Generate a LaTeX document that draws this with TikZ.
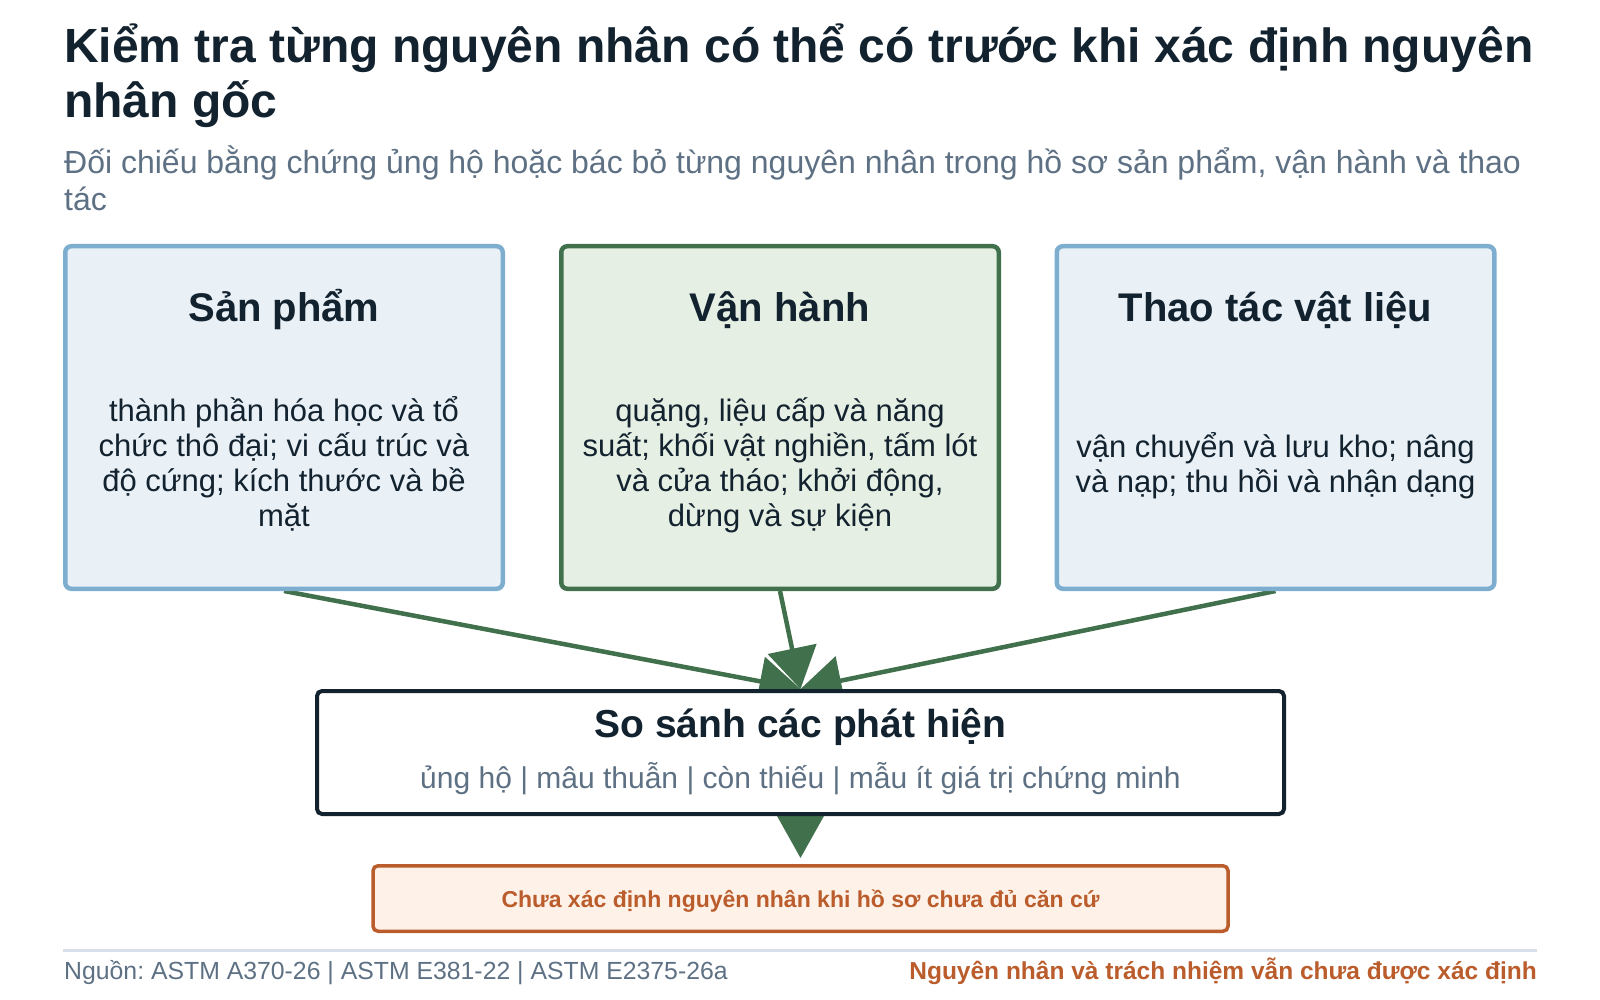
\documentclass[tikz,border=0pt]{standalone}
\usepackage{fontspec}
\setmainfont{Liberation Sans}
\frenchspacing
\usetikzlibrary{arrows.meta,
	positioning,
	backgrounds}

\definecolor{ink}{HTML}{13222F}
\definecolor{slate}{HTML}{5E7184}
\definecolor{skyline}{HTML}{7DAED0}
\definecolor{skyfill}{HTML}{E9F1F6}
\definecolor{leaf}{HTML}{41704C}
\definecolor{leaffill}{HTML}{E6EFE3}
\definecolor{rust}{HTML}{BA5C2B}
\definecolor{rustfill}{HTML}{FEF1E8}
\definecolor{rulegray}{HTML}{D7E0E8}

\begin{document}
\begin{tikzpicture}[x=1pt,y=-1pt,
	intro/.style={anchor=base west,inner sep=0pt,align=left},
	causebox/.style={draw=skyline,fill=skyfill,line width=4.5pt,rounded corners=6pt,
		minimum width=437.5pt,minimum height=342.5pt,inner sep=0pt},
	boxtitle/.style={anchor=base,inner sep=0pt,text=ink,font=\fontsize{40}{46}\selectfont\bfseries},
	boxtext/.style={anchor=base,inner sep=0pt,align=center,text=ink,font=\fontsize{31}{35}\selectfont},
	flowarrow/.style={draw=leaf,line width=4.5pt,-{Triangle[length=41pt,width=49pt]}}]

        \useasboundingbox (0,0) rectangle (1600,1000);

        \node (title) at (64,118) [intro,text=ink,font=\fontsize{48}{55}\selectfont\bfseries]
        	{Kiểm tra từng nguyên nhân có thể có trước khi xác định nguyên\\nhân gốc};
        \node (sub) at (64,211) [intro,text=slate,font=\fontsize{32}{37}\selectfont]
        	{Đối chiếu bằng chứng ủng hộ hoặc bác bỏ từng nguyên nhân trong hồ sơ sản phẩm, vận hành và thao\\tác};

        \node (prod) at (284,417.5) [causebox] {};
        \node (prodtitle) at (284,321) [boxtitle] {Sản phẩm};
        \node (prodtext) at (284,526) [boxtext]
        	{thành phần hóa học và tổ\\chức thô đại; vi cấu trúc và\\độ cứng; kích thước và bề\\mặt};

        \node (oper) at (780,417.5) [causebox,draw=leaf,fill=leaffill] {};
        \node (opertitle) at (780,321) [boxtitle] {Vận hành};
        \node (opertext) at (780,526) [boxtext]
        	{quặng, liệu cấp và năng\\suất; khối vật nghiền, tấm lót\\và cửa tháo; khởi động,\\dừng và sự kiện};

        \node (hand) at (1275.5,417.5) [causebox] {};
        \node (handtitle) at (1275.5,321) [boxtitle] {Thao tác vật liệu};
        \node (handtext) at (1275.5,492) [boxtext]
        	{vận chuyển và lưu kho; nâng\\và nạp; thu hồi và nhận dạng};

        \node (cmp) at (800.5,752.5) [draw=ink,fill=white,line width=4pt,rounded corners=5pt,
        	minimum width=967pt,minimum height=123pt,inner sep=0pt] {};
        \node (cmptitle) at (800.5,737) [boxtitle,font=\fontsize{39}{45}\selectfont\bfseries] {So sánh các phát hiện};
        \node (cmptext) at (800.5,788) [anchor=base,inner sep=0pt,text=slate,font=\fontsize{30}{35}\selectfont]
        	{ủng hộ | mâu thuẫn | còn thiếu | mẫu ít giá trị chứng minh};

        \node (warn) at (800.5,898.5) [draw=rust,fill=rustfill,line width=3.5pt,rounded corners=5pt,
        	minimum width=855pt,minimum height=65.5pt,inner sep=0pt] {};
        \node (warntext) at (800.5,907) [anchor=base,inner sep=0pt,text=rust,font=\fontsize{23}{28}\selectfont\bfseries]
        	{Chưa xác định nguyên nhân khi hồ sơ chưa đủ căn cứ};
        \coordinate[above=6pt of warn.north] (warntip);

        \draw [rulegray,line width=3pt] (63,950)--(1537,950);
        \node (src) at (64,979) [anchor=base west,inner sep=0pt,text=slate,font=\fontsize{24.8}{29}\selectfont]
        	{Nguồn: ASTM A370-26 | ASTM E381-22 | ASTM E2375-26a};
        \node (note) at (1537,979) [anchor=base east,inner sep=0pt,text=rust,font=\fontsize{24.5}{29}\selectfont\bfseries]
        	{Nguyên nhân và trách nhiệm vẫn chưa được xác định};

        \begin{pgfonlayer}{background}
        \fill [white] (0,0) rectangle (1600,1000);
        \draw [flowarrow] (prod.south)--(cmp.north);
        \draw [flowarrow] (oper.south)--(cmp.north);
        \draw [flowarrow] (hand.south)--(cmp.north);
        \draw [flowarrow,-{Triangle[length=44pt,width=48pt]}] (cmp.south)--(warntip);
        \end{pgfonlayer}

    \end{tikzpicture}
\end{document}
